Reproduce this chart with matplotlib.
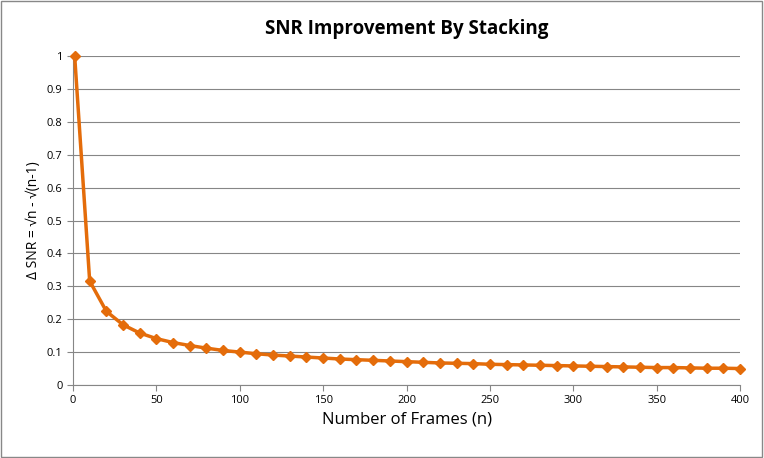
import matplotlib
matplotlib.use("Agg")
import matplotlib.pyplot as plt

frames = [1] + list(range(10, 401, 10))
delta_snr = [1.0, 0.316, 0.224, 0.183, 0.158, 0.141, 0.129, 0.120, 0.112, 0.105, 0.100,
             0.095, 0.091, 0.088, 0.085, 0.082, 0.079, 0.077, 0.075, 0.073, 0.071,
             0.069, 0.067, 0.066, 0.065, 0.063, 0.062, 0.061, 0.060, 0.059, 0.058,
             0.057, 0.056, 0.055, 0.054, 0.053, 0.053, 0.052, 0.051, 0.051, 0.050]
yticks = [0, 0.1, 0.2, 0.3, 0.4, 0.5, 0.6, 0.7, 0.8, 0.9, 1]
xticks = list(range(0, 401, 50))

plt.rcParams['font.family'] = ['Open Sans', 'DejaVu Sans']
fig = plt.figure(figsize=(7.64, 4.58), dpi=100)
fig.patches.append(plt.Rectangle((0.001, 0.002), 0.997, 0.996, transform=fig.transFigure,
                                 fill=False, edgecolor='#888888', lw=1))
ax = fig.add_axes([73/764, 1-385/458, (740-73)/764, (385-56)/458])
ax.plot(frames, delta_snr, color='#E46C0A', lw=2.5, marker='D', ms=5.5, zorder=3, clip_on=False)
ax.set_xlim(0, 400)
ax.set_ylim(0, 1)
ax.set_yticks(yticks)
ax.set_yticklabels([f"{v:g}" for v in yticks], fontsize=8)
ax.set_xticks(xticks)
ax.set_xticklabels([str(v) for v in xticks], fontsize=8)
ax.grid(axis='y', color='#868686', lw=0.8)
ax.set_axisbelow(True)
for s in ['top', 'right']:
    ax.spines[s].set_visible(False)
ax.spines['left'].set_color('#868686')
ax.spines['bottom'].set_color('#868686')
ax.tick_params(axis='both', length=4, color='#868686', direction='out')
ax.set_title('SNR Improvement By Stacking', fontsize=13.5, fontweight='bold', pad=16)
ax.set_xlabel('Number of Frames (n)', fontsize=12)
ax.set_ylabel('Δ SNR = √n - √(n-1)', fontsize=10)
fig.savefig('out.png', dpi=100)
